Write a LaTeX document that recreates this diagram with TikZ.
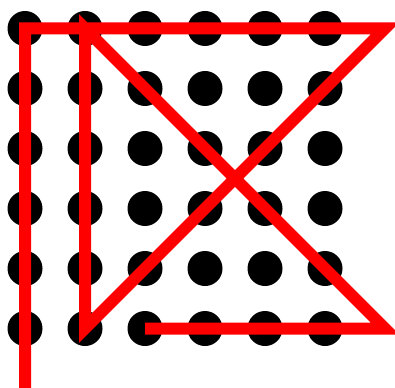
\documentclass[tikz,border=0pt]{standalone}
\begin{document}
\begin{tikzpicture}[x=1pt,y=-1pt,
  dot/.style={fill=black},
  trail/.style={draw=red,line width=12pt,line join=miter}]
\useasboundingbox (0,0) rectangle (395,387);
\clip (0,0) rectangle (395,387);
\foreach \i in {0,...,5}
  \foreach \j in {0,...,5}
    \fill[dot] (25+60*\i,28.5+60*\j) circle[radius=17.5pt];
\coordinate (s) at (25,389);
\coordinate (a) at (25,28.5);
\coordinate (b) at (385,28.5);
\coordinate (c) at (85,328.5);
\coordinate (d) at (85,28.5);
\coordinate (e) at (385,328.5);
\coordinate (f) at (145,328.5);
\draw[trail] (s) -- (a) -- (b) -- (c) -- (d) -- (e) -- (f);
\end{tikzpicture}
\end{document}
